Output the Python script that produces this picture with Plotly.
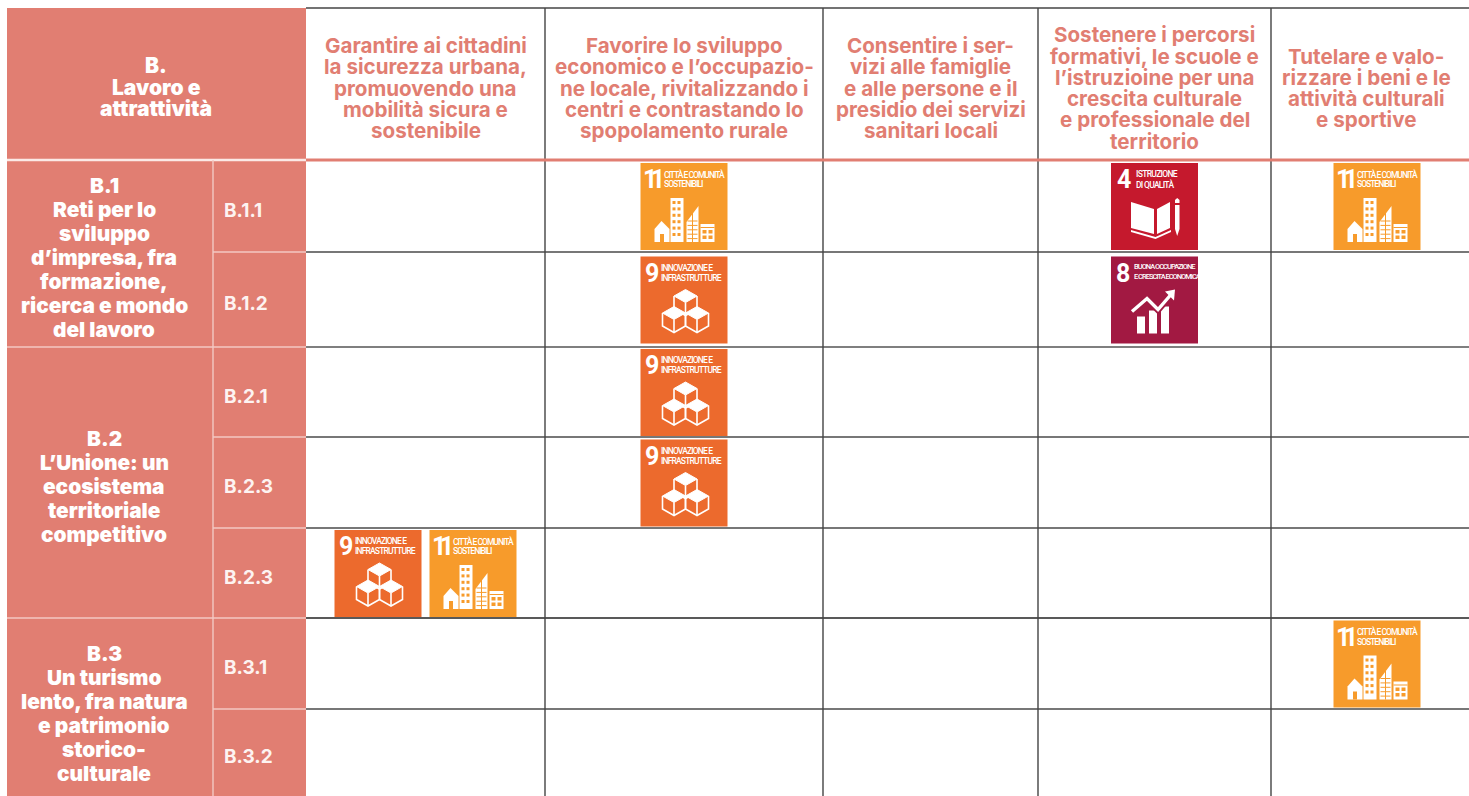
import plotly.graph_objects as go

# ---------- content ----------
corner_label = ["B.", "Lavoro e", "attrattività"]
column_headers = [
    ["Garantire ai cittadini", "la sicurezza urbana,", "promuovendo una", "mobilità sicura e", "sostenibile"],
    ["Favorire lo sviluppo", "economico e l’occupazio-", "ne locale, rivitalizzando i", "centri e contrastando lo", "spopolamento rurale"],
    ["Consentire i ser-", "vizi alle famiglie", "e alle persone e il", "presidio dei servizi", "sanitari locali"],
    ["Sostenere i percorsi", "formativi, le scuole e", "l’istruzioine per una", "crescita culturale", "e professionale del", "territorio"],
    ["Tutelare e valo-", "rizzare i beni e le", "attività culturali", "e sportive"],
]
group_labels = [
    ["B.1", "Reti per lo", "sviluppo", "d’impresa, fra", "formazione,", "ricerca e mondo", "del lavoro"],
    ["B.2", "L’Unione: un", "ecosistema", "territoriale", "competitivo"],
    ["B.3", "Un turismo", "lento, fra natura", "e patrimonio", "storico-", "culturale"],
]
group_row_counts = [2, 3, 2]
row_labels = ["B.1.1", "B.1.2", "B.2.1", "B.2.3", "B.2.3", "B.3.1", "B.3.2"]
# SDG goals per row, per column
row_goals = [
    [[], [11], [], [4], [11]],
    [[], [9], [], [8], []],
    [[], [9], [], [], []],
    [[], [9], [], [], []],
    [[9, 11], [], [], [], []],
    [[], [], [], [], [11]],
    [[], [], [], [], []],
]
goal_titles = {
    4: ["ISTRUZIONE", "DI QUALITÀ"],
    8: ["BUONA OCCUPAZIONE", "E CRESCITA ECONOMICA"],
    9: ["INNOVAZIONE E", "INFRASTRUTTURE"],
    11: ["CITTÀ E COMUNITÀ", "SOSTENIBILI"],
}

# ---------- layout & style ----------
W, H = 1469, 796
SALMON = "#E17E72"
PALE = "#F3C9C3"
GOAL_COLOR = {4: "#C5192D", 8: "#A21942", 9: "#EC6A2D", 11: "#F79B2B"}
col_edges = [306, 545, 823, 1038, 1271, 1483]
header_centers = [425.5, 684, 930.5, 1154.5, 1366]
row_edges = [160, 252, 347, 437, 528, 618, 709, 807]
line_colors = ["#777777", "#555555", "#777777", "#777777", "#222222", "#777777"]
HEAD_FONT = "Inter"
BADGE_FONT = "Roboto"
ICON = 87

shapes, annots = [], []


def rect(x0, y0, x1, y1, fill):
    shapes.append(dict(type="rect", x0=x0, y0=y0, x1=x1, y1=y1, fillcolor=fill,
                       line=dict(width=0), layer="above"))


def line(x0, y0, x1, y1, color, width):
    shapes.append(dict(type="line", x0=x0, y0=y0, x1=x1, y1=y1,
                       line=dict(color=color, width=width), layer="above"))


def poly(pts, ox, oy, fill=None, stroke=None, width=0, close=True):
    d = "M " + " L ".join(f"{ox + x:.2f},{oy + y:.2f}" for x, y in pts) + (" Z" if close else "")
    shapes.append(dict(type="path", path=d, fillcolor=fill if fill else "rgba(0,0,0,0)",
                       line=dict(color=stroke if stroke else "rgba(0,0,0,0)", width=width),
                       layer="above"))


def text(x, y, s, size, color, family=HEAD_FONT, weight=700, anchor="center", spacing=None):
    if spacing is not None:
        s = f'<span style="letter-spacing:{spacing}px">{s}</span>'
    annots.append(dict(x=x, y=y, xref="x", yref="y", text=s, showarrow=False,
                       xanchor=anchor, yanchor="middle", align=anchor, borderpad=0, borderwidth=0,
                       font=dict(family=family, size=size, color=color, weight=weight)))


def block(cx, cy, lines, size, color, lh, weight):
    n = len(lines)
    for i, s in enumerate(lines):
        text(cx, cy + (i - (n - 1) / 2) * lh, s, size, color, weight=weight)


def cube(ox, oy, cx, ty):
    w, h, s = 11.5, 6.5, 13
    poly([(cx, ty), (cx + w, ty + h), (cx, ty + 2 * h), (cx - w, ty + h)], ox, oy, "white", "white", 1)
    poly([(cx - w, ty + h), (cx - w, ty + h + s), (cx, ty + 2 * h + s), (cx + w, ty + h + s), (cx + w, ty + h)],
         ox, oy, None, "white", 1.6, close=False)
    poly([(cx, ty + 2 * h), (cx, ty + 2 * h + s)], ox, oy, None, "white", 1.6, close=False)


def picto(goal, ox, oy, bg):
    if goal == 11:
        poly([(14, 79), (14, 66), (21, 58), (29, 66), (29, 79)], ox, oy, "white")
        rect(ox + 19.5, oy + 71, ox + 23.5, oy + 79, bg)
        rect(ox + 30, oy + 35, ox + 43, oy + 79, "white")
        for r in range(6):
            for c in range(2):
                rect(ox + 32 + c * 5, oy + 38 + r * 6.4, ox + 35 + c * 5, oy + 41 + r * 6.4, bg)
        poly([(46, 79), (46, 59), (58, 43), (58, 79)], ox, oy, "white")
        for r in range(5):
            rect(ox + 47, oy + 57.5 + r * 4.4, ox + 57, oy + 58.5 + r * 4.4, bg)
        rect(ox + 51.5, oy + 50, ox + 52.5, oy + 79, bg)
        rect(ox + 60, oy + 61, ox + 74, oy + 79, "white")
        rect(ox + 60, oy + 64, ox + 74, oy + 65, bg)
        for r in range(2):
            for c in range(2):
                rect(ox + 62 + c * 6, oy + 67 + r * 5.5, ox + 66 + c * 6, oy + 70.5 + r * 5.5, bg)
    elif goal == 9:
        cube(ox, oy, 45, 33)
        cube(ox, oy, 33.5, 50)
        cube(ox, oy, 56.5, 50)
    elif goal == 4:
        poly([(20, 39), (43, 46), (43, 71), (20, 65)], ox, oy, "white")
        poly([(59, 39), (46, 46), (46, 71), (59, 65)], ox, oy, "white")
        poly([(20, 67), (44.5, 74), (60, 67), (60, 69), (44.5, 76), (20, 69)], ox, oy, "white")
        poly([(64, 42), (68.5, 42), (68.5, 66), (66.2, 73), (64, 66)], ox, oy, "white")
        poly([(64, 37), (66.2, 35), (68.5, 37), (68.5, 40), (64, 40)], ox, oy, "white")
    elif goal == 8:
        rect(ox + 26, oy + 60, ox + 34, oy + 77, "white")
        rect(ox + 38, oy + 54, ox + 46, oy + 77, "white")
        rect(ox + 50, oy + 50, ox + 58, oy + 77, "white")
        poly([(21, 55), (36, 42), (47, 53), (60, 38)], ox, oy, None, bg, 7, close=False)
        poly([(21, 55), (36, 42), (47, 53), (60, 38)], ox, oy, None, "white", 3.4, close=False)
        poly([(54, 35), (64, 33), (63, 44)], ox, oy, "white")


NUM_X = {4: 12.5, 8: 11.5, 9: 11.5, 11: 11.5}
NUM_SPACING = {4: 0, 8: 0, 9: 0, 11: -6.5}
TITLE_X = {4: 25, 8: 23, 9: 20, 11: 23.3}
TITLE_SIZE = {4: 8.5, 8: 7.5, 9: 8.5, 11: 8.5}
TITLE_SPACING = {4: -0.7, 8: -1.0, 9: -0.85, 11: -1.0}


def badge(goal, cx, cy):
    ox, oy = cx - ICON / 2, cy - ICON / 2
    color = GOAL_COLOR[goal]
    rect(ox, oy, ox + ICON, oy + ICON, color)
    text(ox + NUM_X[goal], oy + 16.5, str(goal), 25, "white", family=BADGE_FONT, spacing=NUM_SPACING[goal])
    for i, s in enumerate(goal_titles[goal]):
        text(ox + TITLE_X[goal], oy + 11 + i * 10 - (1 if goal == 8 else 0), s, TITLE_SIZE[goal], "white",
             family=BADGE_FONT, anchor="left", spacing=TITLE_SPACING[goal], weight=500)
    picto(goal, ox, oy, color)


# ---------- salmon header area ----------
rect(7, 8, 306, 160, SALMON)
block(156, 87, corner_label, 21, "white", 21.7, 900)

row_i = 0
centers = [257, 486, 713]
for n, lab, cy in zip(group_row_counts, group_labels, centers):
    y0, y1 = row_edges[row_i], min(row_edges[row_i + n], H)
    rect(7, y0, 213, y1, SALMON)
    rect(213, y0, 306, y1, SALMON)
    block(104, cy, lab, 20.8, "white", 24, 900)
    row_i += n

# row labels
for i, lab in enumerate(row_labels):
    y0, y1 = row_edges[i], min(row_edges[i + 1], H)
    text(224, (y0 + y1) / 2 + 4, lab, 19, "#FDF3F1", anchor="left", weight=700)

# column headers
for cx, lab in zip(header_centers, column_headers):
    block(cx, 88, lab, 20.6, SALMON, 21.3, 700)

# grid lines: table body
for y, c in zip(row_edges[1:-1], line_colors):
    line(306, y, W, y, c, 2 if c == "#777777" else 1.3)
for x in col_edges[1:-1]:
    line(x, 8, x, H, "#444444", 1.4)
line(306, 8, W, 8, "#444444", 1.6)
line(7, 160, 306, 160, "#FBE9E6", 2.4)
line(306, 160, W, 160, SALMON, 3)

# pale separators inside the salmon area
line(213, 160, 213, H, PALE, 1.4)
for y in row_edges[1:-1]:
    line(213, y, 306, y, PALE, 1.4)
row_i = 0
for n in group_row_counts[:-1]:
    row_i += n
    line(7, row_edges[row_i], 213, row_edges[row_i], PALE, 1.4)

# SDG badges
for r, cells in enumerate(row_goals):
    cy = (row_edges[r] + row_edges[r + 1]) / 2 + 0.5
    for c, goals in enumerate(cells):
        cx = (col_edges[c] + col_edges[c + 1]) / 2
        n = len(goals)
        for k, g in enumerate(goals):
            badge(g, cx + (k - (n - 1) / 2) * 95, cy)

fig = go.Figure()
fig.add_trace(go.Scatter(x=[0, W], y=[0, H], mode="markers", marker=dict(opacity=0), hoverinfo="skip",
                         showlegend=False))
fig.update_layout(
    width=W, height=H, margin=dict(l=0, r=0, t=0, b=0),
    paper_bgcolor="white", plot_bgcolor="white", showlegend=False,
    xaxis=dict(range=[0, W], visible=False, fixedrange=True),
    yaxis=dict(range=[H, 0], visible=False, fixedrange=True),
    shapes=shapes, annotations=annots,
)
fig.write_html("out.html", config=dict(displayModeBar=False),
               post_script="document.body.style.margin='0';document.documentElement.style.overflow='hidden';")
